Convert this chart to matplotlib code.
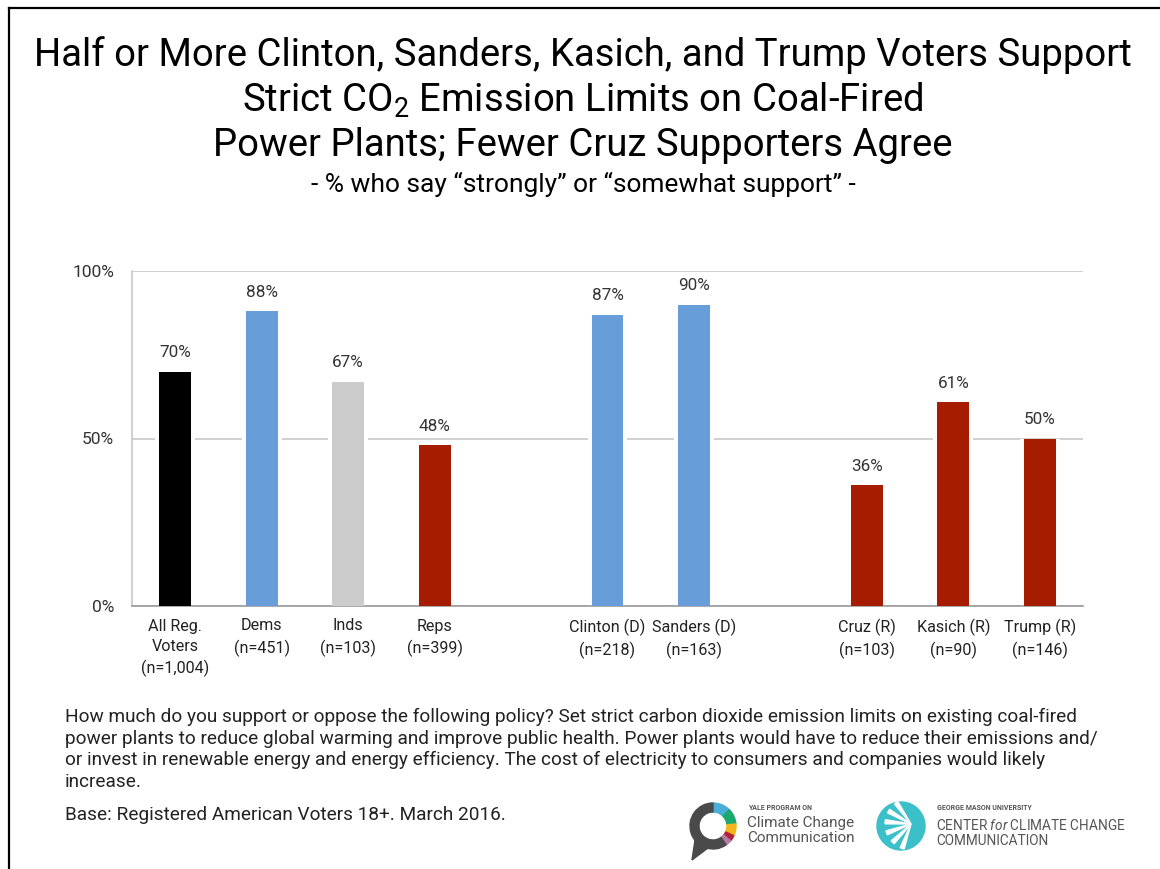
import numpy as np
import matplotlib.pyplot as plt
from matplotlib.lines import Line2D
from matplotlib.patches import Wedge, Circle, Polygon

plt.rcParams['font.family'] = ['Roboto', 'DejaVu Sans']
plt.rcParams['mathtext.fontset'] = 'custom'
plt.rcParams['mathtext.rm'] = 'Roboto'
plt.rcParams['mathtext.it'] = 'Roboto:italic'

# data (blank slots separate the three groups)
labels = ["All Reg.\nVoters\n(n=1,004)", "Dems\n(n=451)", "Inds\n(n=103)", "Reps\n(n=399)", "",
          "Clinton (D)\n(n=218)", "Sanders (D)\n(n=163)", "",
          "Cruz (R)\n(n=103)", "Kasich (R)\n(n=90)", "Trump (R)\n(n=146)"]
values = [70, 88, 67, 48, None, 87, 90, None, 36, 61, 50]
colors = ["#000000", "#679ed9", "#cccccc", "#a61c00", None, "#679ed9", "#679ed9", None,
          "#a61c00", "#a61c00", "#a61c00"]

W, H = 1160, 869
fig = plt.figure(figsize=(W / 100, H / 100), dpi=100)
fig.patch.set_facecolor("white")

# frame lines (top and left)
fig.add_artist(Line2D([9 / W, 1], [1 - 8 / H, 1 - 8 / H], color="black", lw=1.6))
fig.add_artist(Line2D([9 / W, 9 / W], [0, 1 - 8 / H], color="black", lw=1.6))

# titles
title_lines = ["Half or More Clinton, Sanders, Kasich, and Trump Voters Support",
               r"Strict CO$_2$ Emission Limits on Coal-Fired",
               "Power Plants; Fewer Cruz Supporters Agree"]
for i, t in enumerate(title_lines):
    fig.text(583 / W, 1 - (55 + i * 45.5) / H, t, ha="center", va="center",
             fontsize=27.5, color="black")
fig.text(583 / W, 1 - 184 / H, "- % who say \u201cstrongly\u201d or \u201csomewhat support\u201d -",
         ha="center", va="center", fontsize=19, color="black")

ax = fig.add_axes([132 / W, 1 - 606 / H, (1083 - 132) / W, (606 - 271) / H])
x = np.arange(len(labels))
for xi, v, c in zip(x, values, colors):
    if v is None:
        continue
    ax.bar(xi, v, width=0.46, color="white", zorder=2)
    ax.bar(xi, v, width=0.37, color=c, zorder=3)
    ax.annotate(f"{v}%", (xi, v), xytext=(0, 8), textcoords="offset points",
                ha="center", va="bottom", fontsize=12.3, color="#333333")

ax.set_xlim(-0.5, len(labels) - 0.5)
ax.set_ylim(0, 100)
ax.set_yticks([0, 50, 100])
ax.set_yticklabels(["0%", "50%", "100%"])
ax.yaxis.grid(True, color="#c8c8c8", lw=1.2, zorder=1)
ax.set_axisbelow(True)
ticks = [i for i, l in enumerate(labels) if l]
ax.set_xticks(ticks)
ax.set_xticklabels([labels[i] for i in ticks], fontsize=11.6, color="#222222", linespacing=1.45)
ax.tick_params(axis="x", length=0, pad=9)
ax.tick_params(axis="y", length=0, pad=13, labelsize=12.5, labelcolor="#333333")
for s in ["top", "right"]:
    ax.spines[s].set_visible(False)
ax.spines["left"].set_color("#c8c8c8")
ax.spines["bottom"].set_color("#999999")
ax.spines["left"].set_linewidth(1.2)
ax.spines["bottom"].set_linewidth(1.2)

# question text
foot = ["How much do you support or oppose the following policy? Set strict carbon dioxide emission limits on existing coal-fired",
        "power plants to reduce global warming and improve public health. Power plants would have to reduce their emissions and/",
        "or invest in renewable energy and energy efficiency. The cost of electricity to consumers and companies would likely",
        "increase."]
for i, t in enumerate(foot):
    fig.text(65 / W, 1 - (717 + i * 21.6) / H, t, ha="left", va="center", fontsize=13.7, color="#222222")
fig.text(65 / W, 1 - 815 / H, "Base: Registered American Voters 18+. March 2016.", ha="left", va="center",
         fontsize=13.7, color="#222222")

# logos (approximate)
lax = fig.add_axes([0, 0, 1, 1], zorder=5)
lax.set_xlim(0, W)
lax.set_ylim(H, 0)
lax.axis("off")
cx, cy, r = 713, 826, 23
lax.add_patch(Polygon([[695, 840], [692, 860], [708, 848]], closed=True, color="#4a4a4a"))
segs = [(45, 90, "#4aaed9"), (5, 45, "#1aa86f"), (-25, 5, "#f2b51c"), (-40, -25, "#b5213a"),
        (-55, -40, "#b57aa5"), (-270, -55, "#4a4a4a")]
for a1, a2, c in segs:
    lax.add_patch(Wedge((cx, cy), r, -a2, -a1, width=9, color=c))
fig.text(748 / W, 1 - 808 / H, "YALE PROGRAM ON", fontsize=5, fontweight="bold", color="#555555", va="center")
fig.text(747 / W, 1 - 823 / H, "Climate Change", fontsize=11, color="#555555", va="center")
fig.text(747 / W, 1 - 838 / H, "Communication", fontsize=11, color="#555555", va="center")

gx, gy = 901, 826
lax.add_patch(Circle((gx, gy), 24, color="#3bbfc9"))
for ang in [150, 175, 200, 225, 250, 125]:
    a = np.deg2rad(ang)
    lax.add_patch(Polygon([[gx + 10, gy - 2], [gx + 10 + 26 * np.cos(a - 0.08), gy - 2 - 26 * np.sin(a - 0.08)],
                           [gx + 10 + 26 * np.cos(a + 0.08), gy - 2 - 26 * np.sin(a + 0.08)]],
                          closed=True, color="white"))
fig.text(937 / W, 1 - 808 / H, "GEORGE MASON UNIVERSITY", fontsize=5, fontweight="bold", color="#555555", va="center")
fig.text(936 / W, 1 - 825 / H, "CENTER $\\it{for}$ CLIMATE CHANGE", fontsize=9.8, color="#555555", va="center")
fig.text(936 / W, 1 - 841 / H, "COMMUNICATION", fontsize=9.8, color="#555555", va="center")

fig.savefig("out.png", dpi=100)
